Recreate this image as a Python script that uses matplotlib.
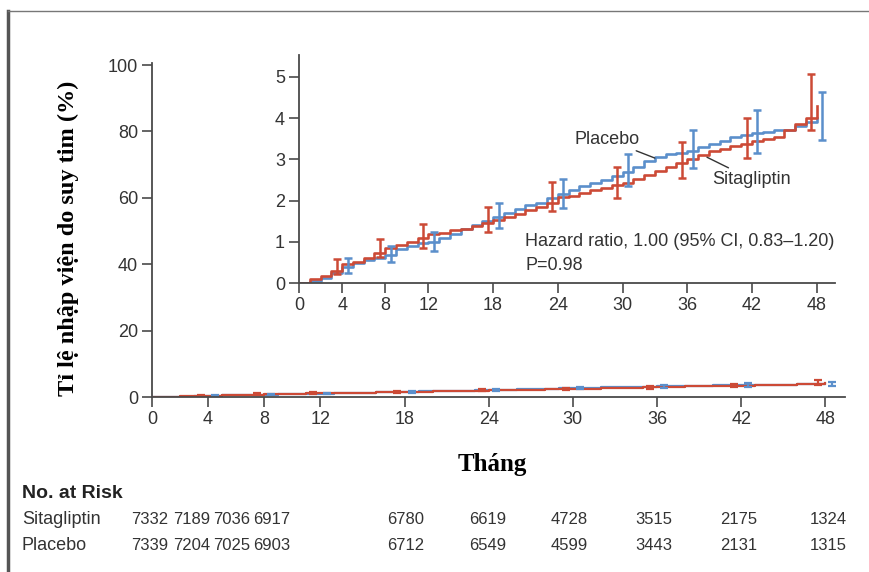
import matplotlib
matplotlib.use("Agg")
import matplotlib.pyplot as plt
from matplotlib.lines import Line2D

# Cumulative incidence (%) by month
months = list(range(49))
sitagliptin = [0, 0.10, 0.17, 0.30, 0.45, 0.52, 0.60, 0.72, 0.85, 0.92,
               1.00, 1.08, 1.18, 1.22, 1.28, 1.32, 1.38, 1.45, 1.52, 1.60,
               1.68, 1.76, 1.85, 1.95, 2.08, 2.12, 2.18, 2.25, 2.30, 2.38,
               2.42, 2.52, 2.62, 2.72, 2.82, 2.92, 3.00, 3.10, 3.20, 3.25,
               3.32, 3.38, 3.45, 3.50, 3.55, 3.72, 3.85, 4.00, 4.30]
placebo = [0, 0.05, 0.12, 0.25, 0.40, 0.48, 0.55, 0.60, 0.68, 0.82,
           0.90, 0.96, 1.00, 1.10, 1.20, 1.30, 1.40, 1.50, 1.60, 1.70,
           1.80, 1.88, 1.95, 2.05, 2.15, 2.25, 2.35, 2.42, 2.50, 2.60,
           2.70, 2.82, 2.95, 3.05, 3.12, 3.15, 3.20, 3.30, 3.38, 3.45,
           3.55, 3.60, 3.65, 3.67, 3.70, 3.72, 3.80, 3.90, 4.00]

# 95% CI bars
sita_ci_month = [3.5, 7.5, 11.5, 17.5, 23.5, 29.5, 35.5, 41.5, 47.5]
sita_ci_mid = [0.40, 0.80, 1.10, 1.50, 2.05, 2.40, 2.95, 3.45, 4.30]
sita_ci_low = [0.22, 0.63, 0.85, 1.24, 1.75, 2.06, 2.54, 3.02, 3.72]
sita_ci_high = [0.59, 1.07, 1.43, 1.84, 2.44, 2.81, 3.42, 4.01, 5.07]
plac_ci_month = [4.5, 8.5, 12.5, 18.5, 24.5, 30.5, 36.5, 42.5, 48.5]
plac_ci_mid = [0.45, 0.70, 1.00, 1.62, 2.17, 2.72, 3.25, 3.65, 4.00]
plac_ci_low = [0.25, 0.51, 0.78, 1.34, 1.83, 2.36, 2.80, 3.15, 3.46]
plac_ci_high = [0.60, 0.90, 1.24, 1.93, 2.53, 3.14, 3.70, 4.19, 4.64]

main_xticks = [0, 4, 8, 12, 18, 24, 30, 36, 42, 48]
main_yticks = [0, 20, 40, 60, 80, 100]
inset_yticks = [0, 1, 2, 3, 4, 5]

risk_sitagliptin = [7332, 7189, 7036, 6917, 6780, 6619, 4728, 3515, 2175, 1324]
risk_placebo = [7339, 7204, 7025, 6903, 6712, 6549, 4599, 3443, 2131, 1315]
risk_x_px = [150, 192, 232, 272, 406, 488, 569, 654, 739, 828]

RED = "#cc4a36"
BLUE = "#5b8fcb"
AXC = "#4a4a4a"
TXT = "#333333"
W, H = 870, 572
SANS = ["Liberation Sans", "DejaVu Sans"]
SERIF = ["Liberation Serif", "DejaVu Serif"]

plt.rcParams["font.family"] = SANS


def fx(px):
    return px / W


def fy(py):
    return 1 - py / H


def style_axes(ax, size):
    for s in ["top", "right"]:
        ax.spines[s].set_visible(False)
    for s in ["left", "bottom"]:
        ax.spines[s].set_color(AXC)
        ax.spines[s].set_linewidth(1.3)
    ax.tick_params(direction="out", length=7, width=1.2, color=AXC,
                   labelcolor=TXT, labelsize=size, pad=3)


def draw_curves(ax, lw, cap, elw):
    ax.step(months, placebo, where="post", color=BLUE, lw=lw)
    ax.step(months, sitagliptin, where="post", color=RED, lw=lw)
    ax.errorbar(sita_ci_month, sita_ci_mid,
                yerr=[[m - l for m, l in zip(sita_ci_mid, sita_ci_low)],
                      [h - m for m, h in zip(sita_ci_mid, sita_ci_high)]],
                fmt="none", ecolor=RED, elinewidth=elw, capsize=cap, capthick=elw)
    ax.errorbar(plac_ci_month, plac_ci_mid,
                yerr=[[m - l for m, l in zip(plac_ci_mid, plac_ci_low)],
                      [h - m for m, h in zip(plac_ci_mid, plac_ci_high)]],
                fmt="none", ecolor=BLUE, elinewidth=elw, capsize=cap, capthick=elw)


fig = plt.figure(figsize=(W / 100, H / 100), dpi=100)

# main axes
ax = fig.add_axes([fx(152), fy(397), (845 - 152) / W, (397 - 65) / H * 1.007])
draw_curves(ax, 1.6, 3, 1.6)
ax.set_xlim(0, 49.4)
ax.set_ylim(0, 100.7)
ax.set_xticks(main_xticks)
ax.set_yticks(main_yticks)
style_axes(ax, 13)

# inset
ins = fig.add_axes([fx(299), fy(283), (835 - 299) / W, 228 / H])
draw_curves(ins, 1.9, 3, 1.8)
ins.set_xlim(0, 49.7)
ins.set_ylim(0, 5.53)
ins.set_xticks(main_xticks)
ins.set_yticks(inset_yticks)
ins.patch.set_alpha(0)
style_axes(ins, 13)

ins.annotate("Placebo", xy=(33.0, 3.03), xytext=(31.6, 3.48), ha="right",
             va="center", fontsize=13, color=TXT,
             arrowprops=dict(arrowstyle="-", color=TXT, lw=1.0,
                             shrinkA=0, shrinkB=0))
ins.annotate("Sitagliptin", xy=(37.6, 3.08), xytext=(38.3, 2.52), ha="left",
             va="center", fontsize=13, color=TXT,
             arrowprops=dict(arrowstyle="-", color=TXT, lw=1.0,
                             shrinkA=0, shrinkB=2))
ins.text(21.0, 1.0, "Hazard ratio, 1.00 (95% CI, 0.83\u20131.20)", fontsize=13,
         color=TXT, va="center")
ins.text(21.0, 0.42, "P=0.98", fontsize=13, color=TXT, va="center")

# axis titles
fig.text(fx(68), fy(238), "Tỉ lệ nhập viện do suy tim (%)", rotation=90,
         ha="center", va="center", fontsize=17.5, fontweight="bold", family=SERIF)
fig.text(fx(492), fy(464), "Tháng", ha="center", va="center", fontsize=18,
         fontweight="bold", family=SERIF)

# number at risk table
fig.text(fx(22), fy(493), "No. at Risk", ha="left", va="center", fontsize=14,
         fontweight="bold", color="#222222")
for label, row, y in [("Sitagliptin", risk_sitagliptin, 520),
                      ("Placebo", risk_placebo, 545)]:
    fig.text(fx(22), fy(y), label, ha="left", va="center", fontsize=13,
             color=TXT)
    for xp, n in zip(risk_x_px, row):
        fig.text(fx(xp), fy(y), str(n), ha="center", va="center", fontsize=12,
                 color=TXT)

# frame lines
fig.add_artist(Line2D([fx(8), fx(8)], [0, fy(11)], color="#555555", lw=2.5))
fig.add_artist(Line2D([fx(8), 1], [fy(11), fy(11)], color="#777777", lw=1.0))

fig.savefig("out.png", dpi=100)
